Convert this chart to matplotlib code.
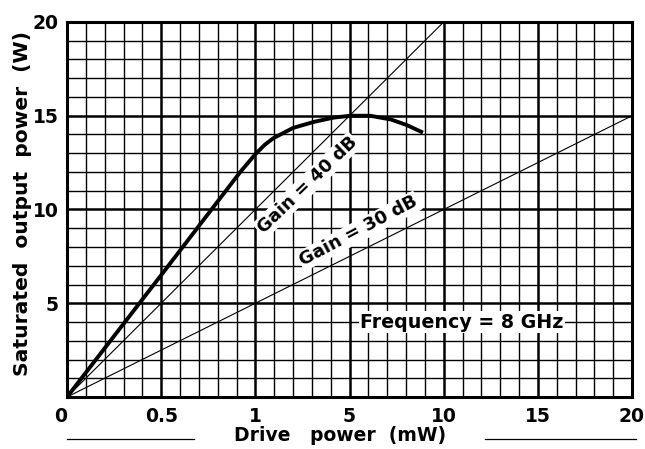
import matplotlib

matplotlib.use("Agg")
import matplotlib.pyplot as plt
import numpy as np

# broken drive-power axis: equal width for 0-0.5, 0.5-1, 1-5, 5-10, 10-15, 15-20
X_BREAKS = [0, 0.5, 1, 5, 10, 15, 20]
X_LABELS = ["0", "0.5", "1", "5", "10", "15", "20"]
Y_TICKS = [5, 10, 15, 20]

# saturated output power curve
drive_mw = [0, 0.5, 0.92, 1.0, 1.4, 1.76, 2.6, 3.48, 4.32, 5.05, 6.1, 7.2, 8.05, 8.9]
sat_w = [0, 6.5, 12.0, 12.95, 13.45, 13.8, 14.35, 14.67, 14.9, 15.0, 15.0, 14.8, 14.5, 14.1]

# reference gain lines (drawn straight on the chart)
gain40_x = [0, 10]
gain40_y = [0, 20]
gain30_x = [0, 20]
gain30_y = [0, 15]

pos = np.arange(len(X_BREAKS))


def fwd(x):
    return np.interp(x, X_BREAKS, pos)


def inv(u):
    return np.interp(u, pos, X_BREAKS)


plt.rcParams["font.family"] = ["DejaVu Sans"]
plt.rcParams["font.weight"] = "bold"

fig = plt.figure(figsize=(6.45, 4.49), dpi=100)
ax = fig.add_axes([67 / 645, 1 - 397 / 449, 565 / 645, 375 / 449])
ax.set_xscale("function", functions=(fwd, inv))
ax.set_xlim(0, 20)
ax.set_ylim(0, 20)

# graph-paper grid
minor_x = inv(np.arange(0, 6.01, 0.2))
ax.set_xticks(X_BREAKS)
ax.set_xticklabels(X_LABELS)
ax.set_xticks(minor_x, minor=True)
ax.set_yticks(Y_TICKS)
ax.set_yticks(np.arange(0, 21, 1), minor=True)
ax.grid(which="minor", color="k", lw=1.0)
ax.grid(which="major", color="k", lw=1.8)
ax.tick_params(which="both", length=0)
ax.tick_params(axis="x", pad=7, labelsize=13.5)
ax.tick_params(axis="y", pad=6, labelsize=13.5)
ax.get_xticklabels()[0].set_ha("right")
for s in ax.spines.values():
    s.set_linewidth(2.2)
ax.set_axisbelow(True)

ax.plot(gain40_x, gain40_y, c="k", lw=0.8)
ax.plot(gain30_x, gain30_y, c="k", lw=0.8)
ax.plot(drive_mw, sat_w, c="k", lw=2.8, solid_capstyle="butt")

box = dict(facecolor="white", edgecolor="none", pad=1)
ax.text(3.2, 11.3, "Gain = 40 dB", rotation=44, ha="center", va="center",
        fontsize=13, fontweight="bold", bbox=box)
ax.text(5.5, 8.85, "Gain = 30 dB", rotation=28, ha="center", va="center",
        fontsize=13, fontweight="bold", bbox=box)
ax.text(10.97, 4.0, "Frequency = 8 GHz", ha="center", va="center",
        fontsize=13.7, fontweight="bold", bbox=box)

ax.set_ylabel("Saturated  output  power  (W)", fontsize=14.6, fontweight="bold")
ax.yaxis.set_label_coords(-0.062, 0.515)
ax.set_xlabel("Drive   power  (mW)", fontsize=13.5, fontweight="bold")
ax.xaxis.set_label_coords(0.483, -0.078)

# rules either side of the x label
for x0, x1 in ((0.0, 0.225), (0.740, 1.007)):
    ax.plot([x0, x1], [-0.112, -0.112], c="k", lw=0.9, transform=ax.transAxes, clip_on=False)

fig.savefig("out.png", dpi=100)
